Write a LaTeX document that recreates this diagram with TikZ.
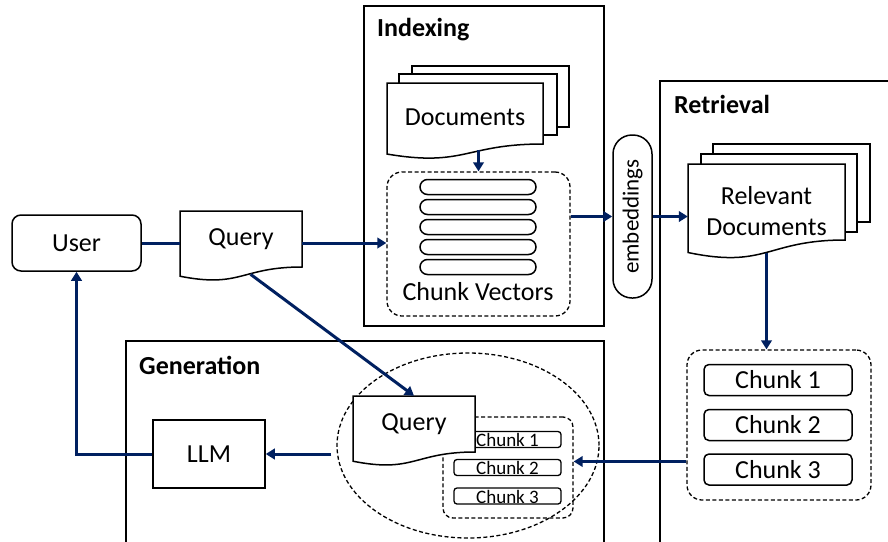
\documentclass[tikz,border=0pt]{standalone}
\usepackage{fontspec}
\setmainfont{Carlito}
\usetikzlibrary{arrows.meta,shapes.geometric,calc}

\definecolor{flowblue}{RGB}{0,32,96}

% document sheet with a wavy bottom: [node options]{name}{x}{y}{width}{height}{text}
\newcommand{\docnode}[7][]{%
  \filldraw[sheet] ({#3-#5/2},{#4-#6/2}) -- ({#3+#5/2},{#4-#6/2})
    -- ({#3+#5/2},{#4+#6/2})
    .. controls (#3,{#4+#6/2}) and (#3,{#4+#6/2+0.381*#6}) ..
    ({#3-#5/2},{#4+#6/2+0.1646*#6}) -- cycle;
  \node[doc text, minimum width=#5, minimum height=#6, #1] (#2) at (#3,#4) {#7};
}

\begin{document}
\begin{tikzpicture}[
    x=1pt, y=-1pt,
    >={Triangle[length=9pt,width=10.5pt]},
    font=\fontsize{26}{31}\selectfont,
    stage/.style={
        rectangle,
        draw=black,
        line width=1.5pt
    },
    stage title/.style={
        font=\fontsize{26}{31}\selectfont\bfseries,
        anchor=west,
        inner sep=0pt
    },
    plain box/.style={
        rectangle,
        draw=black,
        line width=1.5pt,
        fill=white
    },
    sheet/.style={
        draw=black,
        line width=1.5pt,
        fill=white
    },
    doc text/.style={
        inner sep=0pt,
        align=center
    },
    group box/.style={
        rectangle,
        rounded corners=15pt,
        draw=black,
        line width=1.3pt,
        dash pattern=on 4pt off 2.5pt
    },
    dashed ring/.style={
        ellipse,
        draw=black,
        line width=1.3pt,
        dash pattern=on 4pt off 2.5pt
    },
    vector/.style={
        rectangle,
        rounded corners=7.5pt,
        draw=black,
        line width=1.5pt,
        minimum width=116,
        minimum height=15,
        inner sep=0pt
    },
    pill/.style={
        rectangle,
        rounded corners=19pt,
        draw=black,
        line width=1.5pt,
        minimum width=39,
        minimum height=163,
        inner sep=0pt,
        font=\fontsize{23}{27}\selectfont
    },
    chunk/.style={
        rectangle,
        rounded corners=5pt,
        draw=black,
        line width=1.5pt,
        minimum width=148,
        minimum height=31,
        inner sep=0pt
    },
    small chunk/.style={
        rectangle,
        rounded corners=3pt,
        draw=black,
        line width=1.3pt,
        minimum width=107,
        minimum height=16,
        inner xsep=0pt,
        inner ysep=1pt,
        text height=14pt,
        text depth=0pt,
        font=\fontsize{19}{22}\selectfont
    },
    flow/.style={
        draw=flowblue,
        line width=3pt
    }
]
\useasboundingbox (0,0) rectangle (888,541);
\clip (0,0) rectangle (888,541);

% Stage frames
\node[stage, minimum width=240, minimum height=320] (indexing) at (484,166) {};
\node[stage, minimum width=240, minimum height=480] (retrieval) at (780,321) {};
\node[stage, minimum width=478, minimum height=230] (generation) at (365,456) {};
\node[stage title] (idxtitle) at (377,30) {Indexing};
\node[stage title] (rettitle) at (674,104) {Retrieval};
\node[stage title] (gentitle) at (139,365) {Generation};

% User and query
\node[plain box, rounded corners=9pt, minimum width=129, minimum height=56] (user) at (76.5,243) {User};
\docnode{query}{241}{239}{122}{56}{Query}

% Indexing
\draw[sheet] (412,66) rectangle (569,127);
\draw[sheet] (399,74) rectangle (557,135);
\docnode[yshift=-4pt]{docs}{465}{113.5}{156}{61}{Documents}
\node[group box, minimum width=183, minimum height=144] (chunkvec) at (478.5,244) {};
\foreach \i in {1,...,5}
    \node[vector] (v\i) at (478,{167+20*\i}) {};
\node (cvlabel) at (478,292) {Chunk Vectors};

% Embeddings
\node[pill] (embed) at (632.5,216.5) {\rotatebox{90}{embeddings}};

% Retrieval
\draw[sheet] (713,144) rectangle (870,222);
\draw[sheet] (701,154) rectangle (857,232);
\docnode[yshift=-9pt]{reldocs}{766.5}{202}{157}{76}{Relevant\\Documents}
\node[group box, minimum width=184, minimum height=150] (retchunks) at (779,425) {};
\foreach \i/\y in {1/380,2/425,3/469.5}
    \node[chunk] (rc\i) at (778,\y) {Chunk \i};

% Generation
\node[dashed ring, minimum width=262, minimum height=185] (gencontext) at (468,445.5) {};
\node[group box, rounded corners=10pt, minimum width=130, minimum height=101] (genchunks) at (508,467.5) {};
\foreach \i/\y in {1/439.5,2/467.5,3/496}
    \node[small chunk] (gc\i) at (507.5,\y) {Chunk \i};
\docnode{genquery}{414}{424}{122}{56}{Query}
\node[plain box, minimum width=112, minimum height=68] (llm) at (209,454) {LLM};

% Connectors
\draw[flow] (user.east) -- (user.east -| query.west);
\draw[flow,->] (user.east -| query.east) -- (user.east -| chunkvec.west);
\draw[flow,->,shorten <=2pt] (chunkvec.north |- docs.south) -- (chunkvec.north);
\draw[flow,->] (embed.west -| chunkvec.east) -- (embed.west);
\draw[flow,->] (embed.east) -- (embed.east -| reldocs.west);
\draw[flow,->,shorten <=4pt] (reldocs.south) -- (reldocs.south |- retchunks.north);
\draw[flow,->] ($(retchunks.west |- genchunks.east)+(0,-6)$) -- ($(genchunks.east)+(0,-6)$);
\draw[flow,->,shorten <=5pt] (llm.east -| gencontext.west) -- (llm.east);
\draw[flow,->] (llm.west) -| (user.south);
\draw[flow,->,shorten <=12pt] (query.south) -- (genquery.north);

\end{tikzpicture}
\end{document}
